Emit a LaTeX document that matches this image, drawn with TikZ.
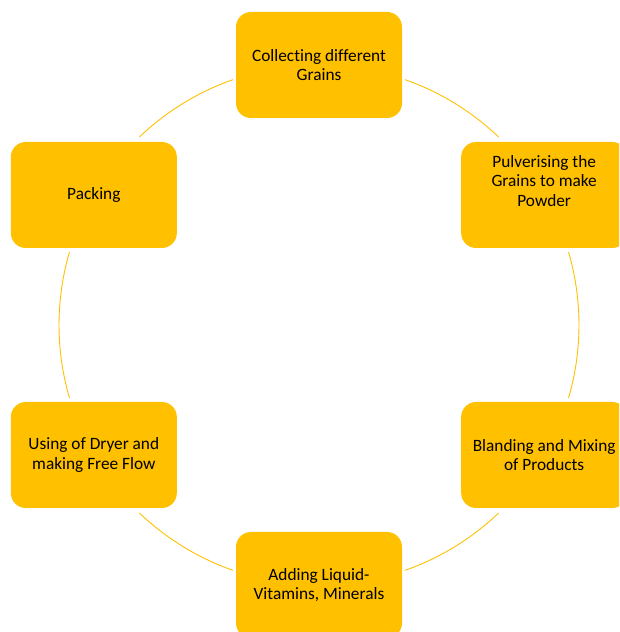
\documentclass[tikz,border=0pt]{standalone}
\usepackage{fontspec}
\setmainfont{Carlito}[Ligatures={NoCommon}]
\definecolor{gold}{HTML}{FFC000}
\tikzset{
  stepbox/.style={rectangle, rounded corners=15pt, fill=gold, minimum width=166pt,
    minimum height=106pt, inner sep=0pt, align=center, text=black,
    font=\fontsize{17.3}{19.7}\selectfont},
  ring/.style={draw=gold, line width=0.9pt}
}
\begin{document}
\begin{tikzpicture}[x=1pt,y=1pt]
\useasboundingbox (0,0) rectangle (619,632);
\clip (0,0) rectangle (619,632);
\coordinate (c) at (319,307);
% arcs
\draw[ring] ([shift={(70.7:260pt)}]c) arc[start angle=70.7, end angle=46.3, radius=260pt];
\draw[ring] ([shift={(16.3:260pt)}]c) arc[start angle=16.3, end angle=-16.3, radius=260pt];
\draw[ring] ([shift={(-46.3:260pt)}]c) arc[start angle=-46.3, end angle=-70.7, radius=260pt];
\draw[ring] ([shift={(-109.3:260pt)}]c) arc[start angle=-109.3, end angle=-133.7, radius=260pt];
\draw[ring] ([shift={(196.3:260pt)}]c) arc[start angle=196.3, end angle=163.7, radius=260pt];
\draw[ring] ([shift={(133.7:260pt)}]c) arc[start angle=133.7, end angle=109.3, radius=260pt];
% boxes
\node[stepbox] (collect) at ([shift={(90:260pt)}]c) {Collecting different\\Grains};
\node[stepbox] (pulver) at ([shift={(30:260pt)}]c) {\raisebox{12pt}[\height][\depth]{\begin{tabular}{@{}c@{}}Pulverising the\\Grains to make\\Powder\end{tabular}}};
\node[stepbox] (blend) at ([shift={(-30:260pt)}]c) {Blanding and Mixing\\of Products};
\node[stepbox] (adding) at ([shift={(-90:260pt)}]c) {Adding Liquid-\\Vitamins, Minerals};
\node[stepbox] (dryer) at ([shift={(-150:260pt)}]c) {Using of Dryer and\\making Free Flow};
\node[stepbox] (packing) at ([shift={(150:260pt)}]c) {Packing};
\end{tikzpicture}
\end{document}
